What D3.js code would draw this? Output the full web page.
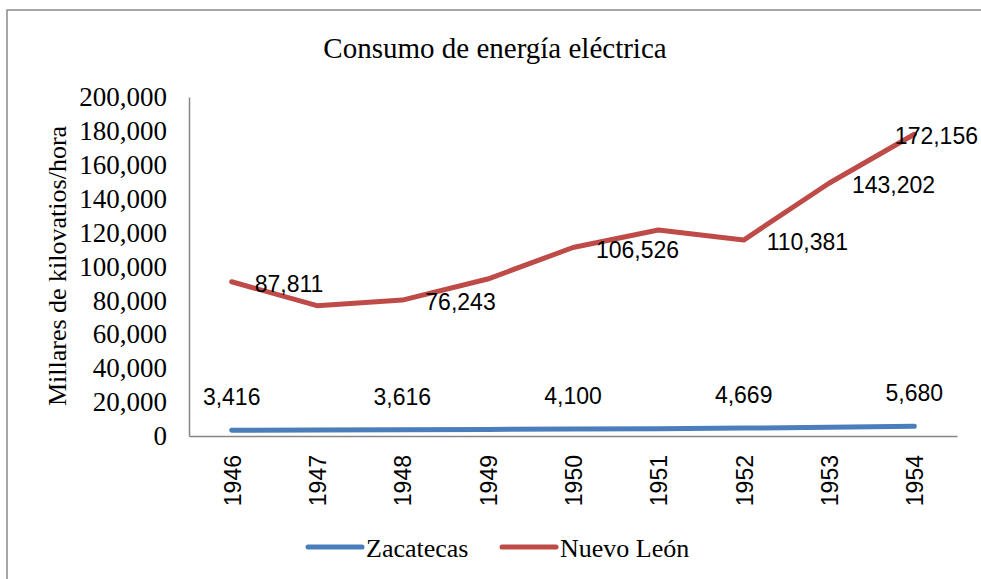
<!DOCTYPE html>
<html>
<head>
<meta charset="utf-8">
<script src="https://cdn.jsdelivr.net/npm/d3@7"></script>
<style>
  html, body { margin: 0; padding: 0; background: #fff; }
  svg { display: block; }
</style>
</head>
<body>
<script>
// ---- Data ----
const years = ["1946","1947","1948","1949","1950","1951","1952","1953","1954"];
const zacatecas = [3416, 3500, 3616, 3850, 4100, 4350, 4669, 5150, 5680];
const nuevoLeon = [91000, 76900, 80200, 92600, 111200, 121500, 115600, 149100, 178000];
const yTicks = [0, 20000, 40000, 60000, 80000, 100000, 120000, 140000, 160000, 180000, 200000];
const zacLabelYears = ["1946","1948","1950","1952","1954"];
const zacLabelTexts = ["3,416","3,616","4,100","4,669","5,680"];
const nlLabelYears = ["1946","1948","1950","1952","1953","1954"];
const nlLabelTexts = ["87,811","76,243","106,526","110,381","143,202","172,156"];
const seriesNames = ["Zacatecas", "Nuevo León"];
const titleText = "Consumo de energía eléctrica";
const yTitleText = "Millares de kilovatios/hora";

// ---- Layout ----
const W = 981, H = 579;
const plot = { left: 189, right: 957, top: 97, bottom: 436 };
const colors = { zac: "#4A7EBB", nl: "#BE4B48", axis: "#868686", border: "#898989" };
const serif = "'Liberation Serif', 'Times New Roman', serif";
const sans = "'Liberation Sans', Arial, sans-serif";

const svg = d3.select("body").append("svg").attr("width", W).attr("height", H);
svg.append("rect").attr("width", W).attr("height", H).attr("fill", "#fff");

// chart border (top + left visible)
svg.append("path").attr("d", `M7,${H} V10 H${W}`).attr("fill", "none")
  .attr("stroke", colors.border).attr("stroke-width", 1.5);

const x = d3.scaleBand().domain(years).range([plot.left, plot.right]).padding(0);
const y = d3.scaleLinear().domain([0, 200000]).range([plot.bottom, plot.top]);
const cx = d => x(d) + x.bandwidth() / 2;

// Title
svg.append("text").attr("x", 495).attr("y", 58).attr("text-anchor", "middle")
  .attr("font-family", serif).attr("font-size", 29).attr("fill", "#000").text(titleText);

// Y axis
const yAxis = d3.axisLeft(y).tickValues(yTicks).tickSize(0).tickPadding(22)
  .tickFormat(d3.format(","));
const gy = svg.append("g").attr("transform", `translate(${plot.left},0)`).call(yAxis);
gy.select(".domain").attr("stroke", colors.axis).attr("stroke-width", 1.5);
gy.selectAll("text").attr("font-family", serif).attr("font-size", 27).attr("fill", "#000");

// X axis
const xAxis = d3.axisBottom(x).tickSize(0).tickPadding(0);
const gx = svg.append("g").attr("transform", `translate(0,${plot.bottom})`).call(xAxis);
gx.select(".domain").attr("stroke", colors.axis).attr("stroke-width", 1.5);
gx.selectAll(".tick text")
  .attr("font-family", sans).attr("font-size", 23).attr("fill", "#000")
  .attr("text-anchor", "end").attr("dy", null).attr("y", 0).attr("x", 0)
  .attr("dominant-baseline", "central")
  .attr("transform", "translate(1,19) rotate(-90)");

// Y axis title
svg.append("text").attr("transform", "translate(57,266) rotate(-90)")
  .attr("text-anchor", "middle").attr("dominant-baseline", "central")
  .attr("font-family", serif).attr("font-size", 26).attr("fill", "#000").text(yTitleText);

// Lines
const line = d3.line().x((d, i) => cx(years[i])).y(d => y(d));
svg.append("path").datum(zacatecas).attr("d", line).attr("fill", "none")
  .attr("stroke", colors.zac).attr("stroke-width", 5).attr("stroke-linecap", "round").attr("stroke-linejoin", "round");
svg.append("path").datum(nuevoLeon).attr("d", line).attr("fill", "none")
  .attr("stroke", colors.nl).attr("stroke-width", 5).attr("stroke-linecap", "round").attr("stroke-linejoin", "round");

// Zacatecas labels (above)
zacLabelYears.forEach((yr, k) => {
  const i = years.indexOf(yr);
  svg.append("text").attr("x", cx(yr)).attr("y", y(zacatecas[i]) - 33)
    .attr("text-anchor", "middle").attr("dominant-baseline", "central")
    .attr("font-family", sans).attr("font-size", 23).attr("fill", "#000")
    .text(zacLabelTexts[k]);
});

// Nuevo León labels (right)
nlLabelYears.forEach((yr, k) => {
  const i = years.indexOf(yr);
  const t = svg.append("text").attr("y", y(nuevoLeon[i]) + 2)
    .attr("dominant-baseline", "central")
    .attr("font-family", sans).attr("font-size", 23).attr("fill", "#000")
    .text(nlLabelTexts[k]);
  const w = t.node().getComputedTextLength();
  let lx = cx(yr) + 23;
  if (lx + w > W - 3) lx = W - 3 - w;
  t.attr("x", lx);
});

// Legend
const legend = [
  { name: seriesNames[0], color: colors.zac, x1: 308, x2: 362, tx: 366 },
  { name: seriesNames[1], color: colors.nl, x1: 502, x2: 556, tx: 560 }
];
legend.forEach(l => {
  svg.append("line").attr("x1", l.x1).attr("x2", l.x2).attr("y1", 547).attr("y2", 547)
    .attr("stroke", l.color).attr("stroke-width", 5).attr("stroke-linecap", "round");
  svg.append("text").attr("x", l.tx).attr("y", 557)
    .attr("font-family", serif).attr("font-size", 26).attr("fill", "#000").text(l.name);
});
</script>
</body>
</html>
